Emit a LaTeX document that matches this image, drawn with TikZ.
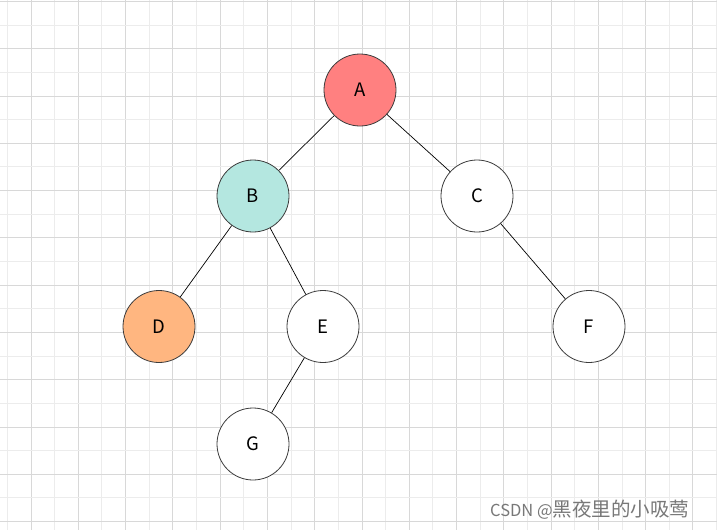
\documentclass[tikz,border=0pt]{standalone}
\usepackage{fontspec}
\newfontfamily\cjk{Noto Sans CJK SC}
\definecolor{gridDark}{RGB}{216,216,216}
\definecolor{gridLight}{RGB}{236,236,236}
\definecolor{fillA}{RGB}{255,128,128}
\definecolor{fillB}{RGB}{180,231,224}
\definecolor{fillD}{RGB}{255,182,128}
\definecolor{strokeC}{RGB}{60,60,60}
\definecolor{wmark}{RGB}{120,120,120}
\tikzset{
  treenode/.style={circle, draw=strokeC, line width=0.8pt, minimum size=72pt, inner sep=0pt, font=\cjk\fontsize{18.5}{21}\selectfont, text=black},
  edge/.style={draw=black, line width=0.7pt},
}
\begin{document}
\begin{tikzpicture}[x=1pt,y=-1pt]
\useasboundingbox (0,0) rectangle (717,530);
\fill[white] (0,0) rectangle (717,530);
% grid
\foreach \k in {0,...,30}{
  \pgfmathsetmacro{\xx}{7.4+23.64*\k}
  \ifodd\k
    \draw[gridDark, line width=1pt] (\xx,0) -- (\xx,530);
  \else
    \draw[gridLight, line width=1pt] (\xx,0) -- (\xx,530);
  \fi
}
\foreach \k in {0,...,22}{
  \pgfmathsetmacro{\yy}{1.5+23.64*\k}
  \ifodd\k
    \draw[gridLight, line width=1pt] (0,\yy) -- (717,\yy);
  \else
    \draw[gridDark, line width=1pt] (0,\yy) -- (717,\yy);
  \fi
}
% nodes
\node[treenode, fill=fillA] (A) at (360,90) {A};
\node[treenode, fill=fillB] (B) at (253,196) {B};
\node[treenode, fill=white] (C) at (477,196) {C};
\node[treenode, fill=fillD] (D) at (159,326.5) {D};
\node[treenode, fill=white] (E) at (323,326.5) {E};
\node[treenode, fill=white] (F) at (589,326.5) {F};
\node[treenode, fill=white] (G) at (253,444) {G};
% edges
\draw[edge] (A) -- (B);
\draw[edge] (A) -- (C);
\draw[edge] (B) -- (D);
\draw[edge] (B) -- (E);
\draw[edge] (C) -- (F);
\draw[edge] (E) -- (G);
% watermark
\node[anchor=west, inner sep=0pt, text=wmark, font=\cjk\fontsize{16.5}{18}\selectfont] (wm) at (490,510) {CSDN @{\fontsize{19.5}{20}\selectfont 黑夜里的小吸莺}};
\end{tikzpicture}
\end{document}
